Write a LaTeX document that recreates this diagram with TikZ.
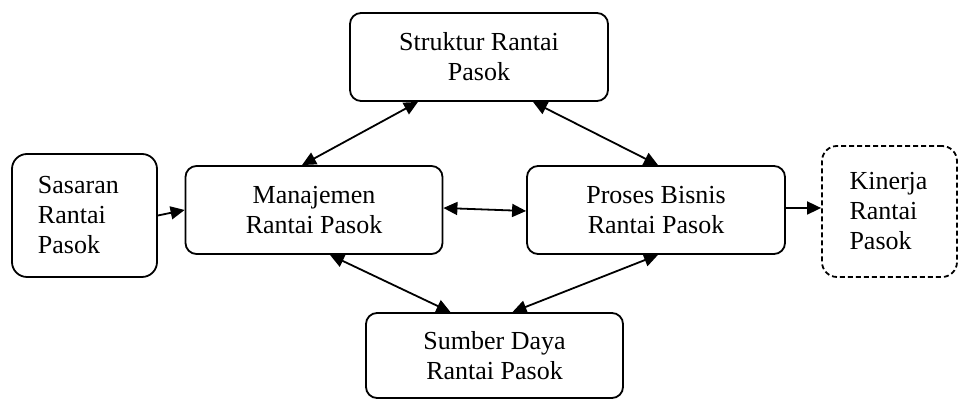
\documentclass[tikz,border=0pt]{standalone}
\usepackage{fontspec}
\setmainfont{Liberation Serif}
\usetikzlibrary{arrows.meta}
\begin{document}
\begin{tikzpicture}[x=0.5pt,y=-0.5pt,
  every node/.style={font=\fontsize{13}{15}\selectfont},
  box/.style={draw, line width=0.9pt, rounded corners=5.5pt, inner sep=0pt, align=center},
  sidebox/.style={box, rounded corners=7.5pt, align=left},
  tip/.style={Triangle[length=7pt,width=6.5pt]},
  link/.style={line width=0.9pt, {Triangle[length=7pt,width=6.5pt]}-{Triangle[length=7pt,width=6.5pt]}},
  flow/.style={line width=0.9pt, -{Triangle[length=7pt,width=6.5pt]}}
]
\useasboundingbox (0,0) rectangle (959,399);

% boxes
\node[sidebox, minimum width=72.5pt, minimum height=61.5pt, text width=46.5pt] (sasaran) at (84.5,215.5)
  {Sasaran\\Rantai\\Pasok};
\node[box, minimum width=128.5pt, minimum height=44pt] (manaj) at (314,210) {Manajemen\\Rantai Pasok};
\node[box, minimum width=129pt, minimum height=44pt] (proses) at (656,210) {Proses Bisnis\\Rantai Pasok};
\node[sidebox, dash pattern=on 2.5pt off 1.5pt, minimum width=67.5pt, minimum height=65.5pt, text width=40pt] (kinerja) at (889.5,211.5)
  {Kinerja\\Rantai\\Pasok};
\node[box, minimum width=129pt, minimum height=44pt] (struktur) at (479,57) {Struktur Rantai\\Pasok};
\node[box, minimum width=128.5pt, minimum height=42.5pt] (sumber) at (494.5,355.5) {Sumber Daya\\Rantai Pasok};

% connectors
\draw[link] ([xshift=-30.5pt]struktur.south) -- ([xshift=-6pt]manaj.north);
\draw[link] ([xshift=27pt]struktur.south) -- ([xshift=1pt]proses.north);
\draw[link] ([xshift=8pt]manaj.south) -- ([xshift=-22pt]sumber.north);
\draw[link] ([xshift=1pt]proses.south) -- ([xshift=9pt]sumber.north);
\draw[link] ([yshift=1pt]manaj.east) -- ([yshift=-0.5pt]proses.west);
\draw[flow] (sasaran.east) -- (manaj.west);
\draw[flow] ([yshift=1pt]proses.east) -- ([yshift=1.75pt]kinerja.west);
\end{tikzpicture}
\end{document}
